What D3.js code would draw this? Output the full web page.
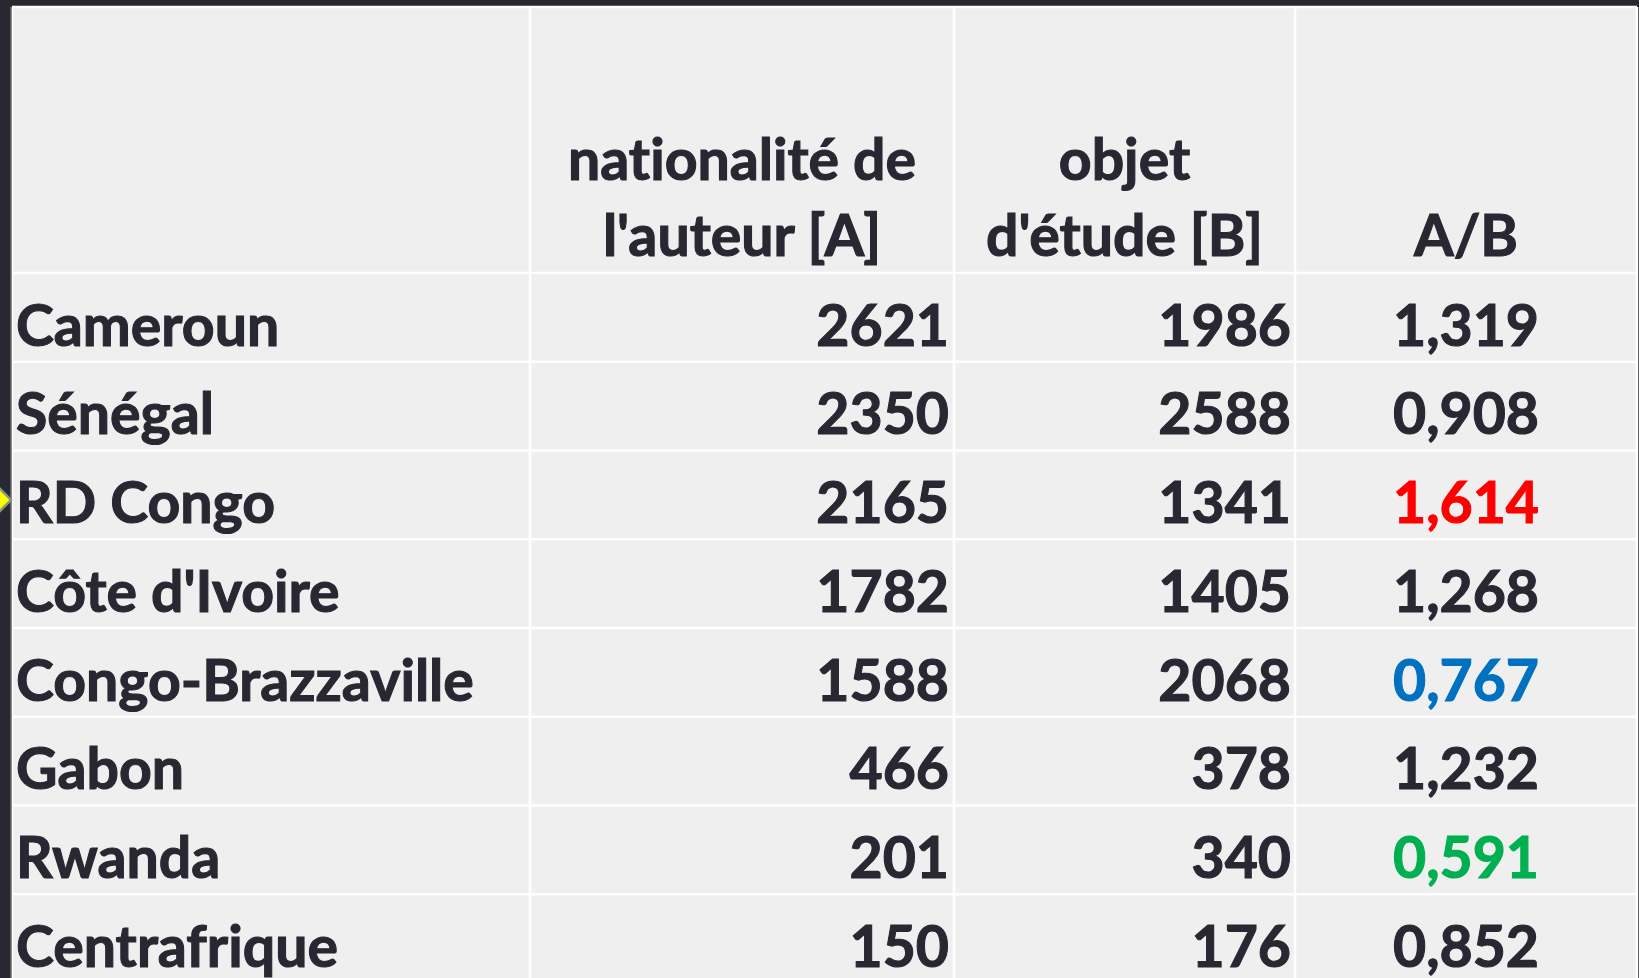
<!DOCTYPE html>
<html>
<head>
<meta charset="utf-8">
<script src="https://cdn.jsdelivr.net/npm/d3@7"></script>
<style>
  html, body { margin: 0; padding: 0; background: #282832; overflow: hidden; }
  svg { display: block; }
  text { font-family: Lato, "Open Sans", sans-serif; font-weight: 700; fill: #282832; stroke: #282832;
         stroke-width: 1.1px; font-variant-ligatures: none; font-feature-settings: "liga" 0; }
</style>
</head>
<body>
<svg id="table" width="1639" height="978"></svg>
<script>
// table content
const countries = ['Cameroun', 'Sénégal', 'RD Congo', "Côte d'Ivoire", 'Congo-Brazzaville', 'Gabon', 'Rwanda', 'Centrafrique'];
const authorNat = [2621, 2350, 2165, 1782, 1588, 466, 201, 150];      // [A]
const studyObj = [1986, 2588, 1341, 1405, 2068, 378, 340, 176];       // [B]
const ratio = ['1,319', '0,908', '1,614', '1,268', '0,767', '1,232', '0,591', '0,852'];
const headers = [[''], ['nationalité de', "l'auteur [A]"], ['objet', "d'étude [B]"], ['A/B']];
const ratioColors = {'RD Congo': '#ff0000', 'Congo-Brazzaville': '#0070c0', 'Rwanda': '#00b050'};

const svg = d3.select('#table');
const width = +svg.attr('width');
const height = +svg.attr('height');

const tLeft = 12, tTop = 7, tRight = 1637;
const headerBottom = 273;
const rowH = 88.75;
const colEdges = [tLeft, 530, 954, 1295, tRight];

const yScale = d3.scaleLinear().domain([0, countries.length]).range([headerBottom, headerBottom + rowH * countries.length]);

// background
svg.append('rect').attr('x', tLeft).attr('y', tTop).attr('width', tRight - tLeft).attr('height', height - tTop)
  .attr('fill', '#eeefee');

const lines = svg.append('g').attr('stroke', '#ffffff').attr('stroke-width', 2.5);
// horizontal rules
lines.append('line').attr('x1', tLeft).attr('x2', tRight).attr('y1', tTop).attr('y2', tTop);
d3.range(countries.length + 1).forEach(i => {
  lines.append('line').attr('x1', tLeft).attr('x2', tRight).attr('y1', yScale(i)).attr('y2', yScale(i));
});
// vertical rules
colEdges.forEach(x => {
  lines.append('line').attr('x1', x).attr('x2', x).attr('y1', tTop).attr('y2', height);
});
svg.append('line').attr('x1', tLeft - 0.5).attr('x2', tLeft - 0.5).attr('y1', tTop).attr('y2', height)
  .attr('stroke', '#8a8a90').attr('stroke-width', 1);

// font size fitted so the longest label matches the reference width
const probe = svg.append('text').attr('font-size', 100).text('Congo-Brazzaville');
const fs = 100 * 458 / probe.node().getComputedTextLength();
probe.remove();

const g = svg.append('g').attr('font-size', fs);

// header
headers.forEach((lns, c) => {
  const cx = (colEdges[c] + colEdges[c + 1]) / 2;
  lns.forEach((t, k) => {
    g.append('text').attr('x', cx).attr('y', 256 - (lns.length - 1 - k) * 76)
      .attr('text-anchor', 'middle').text(t);
  });
});

const base = i => yScale(i) + 72.5;

g.selectAll('text.country').data(countries).join('text').attr('class', 'country')
  .attr('x', tLeft + 4).attr('y', (d, i) => base(i)).text(d => d);

g.selectAll('text.a').data(authorNat).join('text').attr('class', 'a')
  .attr('x', colEdges[2] - 5).attr('y', (d, i) => base(i)).attr('text-anchor', 'end').text(d => d);

g.selectAll('text.b').data(studyObj).join('text').attr('class', 'b')
  .attr('x', colEdges[3] - 4).attr('y', (d, i) => base(i)).attr('text-anchor', 'end').text(d => d);

g.selectAll('text.r').data(ratio).join('text').attr('class', 'r')
  .attr('x', (colEdges[3] + colEdges[4]) / 2).attr('y', (d, i) => base(i)).attr('text-anchor', 'middle')
  .style('fill', (d, i) => ratioColors[countries[i]] || '#282832')
  .style('stroke', (d, i) => ratioColors[countries[i]] || '#282832')
  .text(d => d);

// selection marker on the left edge (RD Congo row)
const my = (yScale(2) + yScale(3)) / 2 + 5;
svg.append('path').attr('d', `M-6,${my - 17}L11,${my}L-6,${my + 17}Z`)
  .attr('fill', '#ffff00').attr('stroke', '#8c9a7c').attr('stroke-width', 2.5);
</script>
</body>
</html>
